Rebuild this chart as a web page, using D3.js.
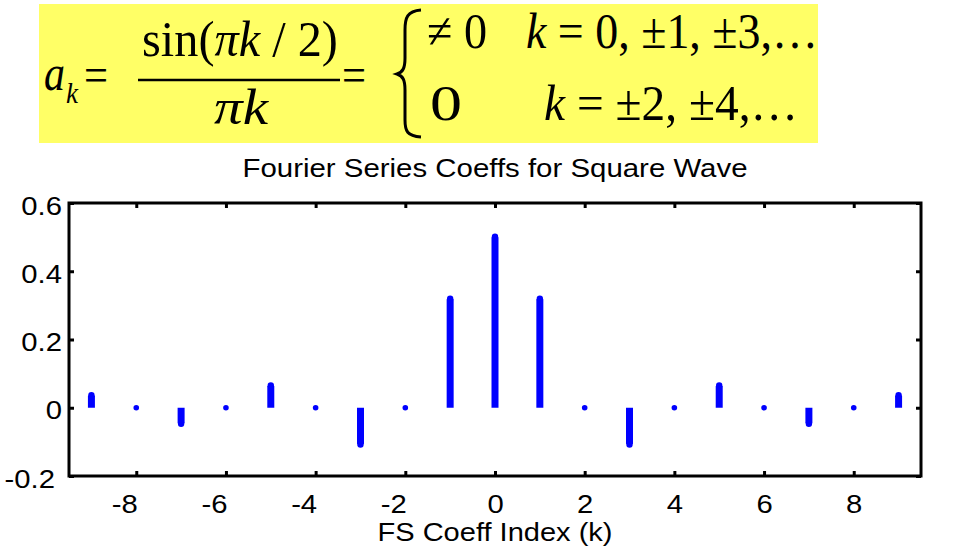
<!DOCTYPE html>
<html><head><meta charset="utf-8">
<script src="https://cdn.jsdelivr.net/npm/d3@7"></script>
<style>html,body{margin:0;padding:0;background:#fff;}svg{display:block;}</style>
</head><body>
<svg id="c" width="955" height="549"></svg>
<script>
const kValues = [-9,-8,-7,-6,-5,-4,-3,-2,-1,0,1,2,3,4,5,6,7,8,9];
const akValues = [0.0354,0,-0.0455,0,0.0637,0,-0.1061,0,0.3183,0.5,0.3183,0,-0.1061,0,0.0637,0,-0.0455,0,0.0354];
const xTicks = [-8,-6,-4,-2,0,2,4,6,8];
const xTickLabels = ["-8","-6","-4","-2","0","2","4","6","8"];
const yTicks = [-0.2,0,0.2,0.4,0.6];
const yTickLabels = ["-0.2","0","0.2","0.4","0.6"];
const titleText = "Fourier Series Coeffs for Square Wave";
const xLabelText = "FS Coeff Index (k)";

const svg = d3.select("#c");
const L = 69, R = 921, T = 203, B = 476;
const x = d3.scaleLinear().domain([-9.5, 9.5]).range([L, R]);
const y = d3.scaleLinear().domain([-0.2, 0.6]).range([B, T]);
const STRETCH = 1.17;

// ---- formula box ----
const fb = svg.append("g");
fb.append("rect").attr("x",39).attr("y",4).attr("width",779).attr("height",139).attr("fill","#ffff66");
const serif = "'Liberation Serif','Times New Roman',serif";
function t(txt, xx, yy, size, w, opts={}) {
  const gg = fb.append("g");
  const e = gg.append("text").attr("x",0).attr("y",0).attr("font-family",serif)
    .attr("font-size",size).attr("fill","#000");
  if (opts.italic) e.attr("font-style","italic");
  if (opts.html) e.html(txt); else e.text(txt);
  const bw = e.node().getComputedTextLength();
  const sx = w / bw;
  gg.attr("transform",`translate(${xx},${yy}) scale(${sx},1)`);
  return gg;
}
t("a", 44, 90, 50, 21, {italic:true});
t("k", 66, 103, 30, 12, {italic:true});
t("=", 84, 92, 50, 24);
t('sin(<tspan font-style="italic">πk</tspan> / 2)', 142, 56, 50, 196, {html:true});
fb.append("line").attr("x1",138).attr("x2",340).attr("y1",80).attr("y2",80).attr("stroke","#000").attr("stroke-width",2.4);
t("πk", 214, 124, 50, 54, {italic:true});
t("=", 342, 92, 50, 24);
// brace
fb.append("path")
  .attr("d","M421,10 C407,11 405,18 405,30 L405,58 C405,68 403,72 397,74 C403,76 405,80 405,90 L405,120 C405,131 407,136 421,137")
  .attr("fill","none").attr("stroke","#000").attr("stroke-width",3);
t("≠ 0", 427, 48, 50, 60);
t('<tspan font-style="italic">k</tspan> = 0, ±1, ±3,…', 526, 48, 50, 292, {html:true});
t("0", 430, 120, 50, 32);
t('<tspan font-style="italic">k</tspan> = ±2, ±4,…', 544, 120, 50, 254, {html:true});

// ---- chart ----
const sans = "'Liberation Sans',Arial,Helvetica,sans-serif";
const FS = 25;
const g = svg.append("g");

// stems
const blue = "#0000ff";
const data = kValues.map((k,i)=>({k, v: akValues[i]}));
g.selectAll("line.stem").data(data.filter(d=>d.v!==0)).join("line")
  .attr("class","stem")
  .attr("x1",d=>x(d.k)).attr("x2",d=>x(d.k))
  .attr("y1",y(0)).attr("y2",d=>y(d.v))
  .attr("stroke",blue).attr("stroke-width",7);
g.selectAll("circle.mk").data(data).join("circle")
  .attr("class","mk")
  .attr("cx",d=>x(d.k)).attr("cy",d=>y(d.v)+(d.v>0?-0.5:(d.v<0?0.5:0)))
  .attr("r",d=>d.v===0?2.8:3.2).attr("fill",blue);

function stretchText(sel){
  sel.each(function(){
    const w = this.getComputedTextLength();
    d3.select(this).attr("textLength", w*STRETCH).attr("lengthAdjust","spacingAndGlyphs");
  });
}
// axes ticks
const tickStyle = sel => {
  sel.select(".domain").remove();
  sel.selectAll(".tick line").attr("stroke","#000").attr("stroke-width",3);
  sel.selectAll(".tick text").attr("font-family",sans).attr("font-size",FS).attr("fill","#000");
};
const xb = g.append("g").attr("transform",`translate(0,${B})`)
  .call(d3.axisBottom(x).tickValues(xTicks).tickSize(-5).tickFormat((d,i)=>xTickLabels[i]))
  .call(tickStyle);
xb.selectAll(".tick text")
  .attr("y",37).attr("dy",null)
  .attr("text-anchor",d=>d<0?"end":"middle")
  .attr("x",d=>d<0?1:0)
  .call(stretchText);
g.append("g").attr("transform",`translate(0,${T})`)
  .call(d3.axisTop(x).tickValues(xTicks).tickSize(-5).tickFormat(""))
  .call(tickStyle);
const yl = g.append("g").attr("transform",`translate(${L},0)`)
  .call(d3.axisLeft(y).tickValues(yTicks).tickSize(-5).tickFormat((d,i)=>yTickLabels[i]))
  .call(tickStyle);
yl.selectAll(".tick text")
  .attr("x",d=>d<0?-14:-7).attr("dy",null).attr("y",11)
  .call(stretchText);
g.append("g").attr("transform",`translate(${R},0)`)
  .call(d3.axisRight(y).tickValues(yTicks).tickSize(-5).tickFormat(""))
  .call(tickStyle);

// box
g.append("rect").attr("x",L).attr("y",T).attr("width",R-L).attr("height",B-T)
  .attr("fill","none").attr("stroke","#000").attr("stroke-width",3);

// title & label
g.append("text").attr("x",x(0)).attr("y",177).attr("text-anchor","middle")
  .attr("font-family",sans).attr("font-size",FS).text(titleText)
  .attr("textLength",505).attr("lengthAdjust","spacingAndGlyphs");
g.append("text").attr("x",x(0)).attr("y",541).attr("text-anchor","middle")
  .attr("font-family",sans).attr("font-size",FS).text(xLabelText)
  .attr("textLength",235).attr("lengthAdjust","spacingAndGlyphs");
</script>
</body></html>
